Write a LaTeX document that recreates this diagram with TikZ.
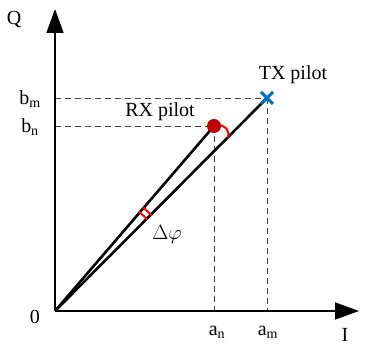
\documentclass[tikz,border=0pt]{standalone}
\usepackage{fontspec}
\setmainfont{Liberation Serif}
\usetikzlibrary{arrows.meta}

\begin{document}
\begin{tikzpicture}[x=1pt,y=1pt,font=\fontsize{20}{24}\selectfont]
\useasboundingbox (-55,-37) rectangle (310,311);
\coordinate (O) at (0,0);
\coordinate (Qend) at (0,302);
\coordinate (Iend) at (304,0);
\coordinate (TX) at (212,213);
\coordinate (RX) at (159,185);
\coordinate (an) at (159,0);
\coordinate (am) at (212,0);
\coordinate (bn) at (0,185);
\coordinate (bm) at (0,213);

\node[] (Q) at (-41,291) {Q};
\node[] (I) at (290,-24) {I};
\node[] (zero) at (-20,-6) {0};
\node[] (bmlab) at (-25,212) {b\textsubscript{m}};
\node[] (bnlab) at (-25,184) {b\textsubscript{n}};
\node[] (anlab) at (162,-21) {a\textsubscript{n}};
\node[] (amlab) at (213,-21) {a\textsubscript{m}};
\node[] (txlab) at (238,236) {TX pilot};
\node[] (rxlab) at (105,199) {RX pilot};
\node[font=\fontsize{22}{26}\selectfont] (dphi) at (112,77) {$\Delta\varphi$};

\draw[dashed, line width=0.8pt, black!75, dash pattern=on 6pt off 4pt] (bm) -- (TX);
\draw[dashed, line width=0.8pt, black!75, dash pattern=on 6pt off 4pt] (bn) -- (RX);
\draw[dashed, line width=0.8pt, black!75, dash pattern=on 6pt off 4pt] (RX) -- (an);
\draw[dashed, line width=0.8pt, black!75, dash pattern=on 6pt off 4pt] (TX) -- (am);

\draw[line width=1.8pt, -{Triangle[width=17pt,length=24pt]}] (O) -- (Qend);
\draw[line width=1.8pt, -{Triangle[width=17pt,length=24pt]}] (O) -- (Iend);

\draw[line width=2.6pt] (O) -- (TX);
\draw[line width=2.6pt] (O) -- (RX);

% angle marks
\draw[red, line width=2pt] (44.6:130) arc (44.6:49.8:130);
\draw[red, line width=2pt] (44.6:136) arc (44.6:49.8:136);
\draw[red, line width=2pt] (RX) ++(3,1) .. controls (172,186) and (175,178) .. (45.1:245);

\fill[red!75!black] (RX) circle (7);
\draw[line width=3pt, color={rgb,255:red,0;green,112;blue,192}] (TX) ++(-6,-6) -- ++(12,12);
\draw[line width=3pt, color={rgb,255:red,0;green,112;blue,192}] (TX) ++(-6,6) -- ++(12,-12);
\end{tikzpicture}
\end{document}
